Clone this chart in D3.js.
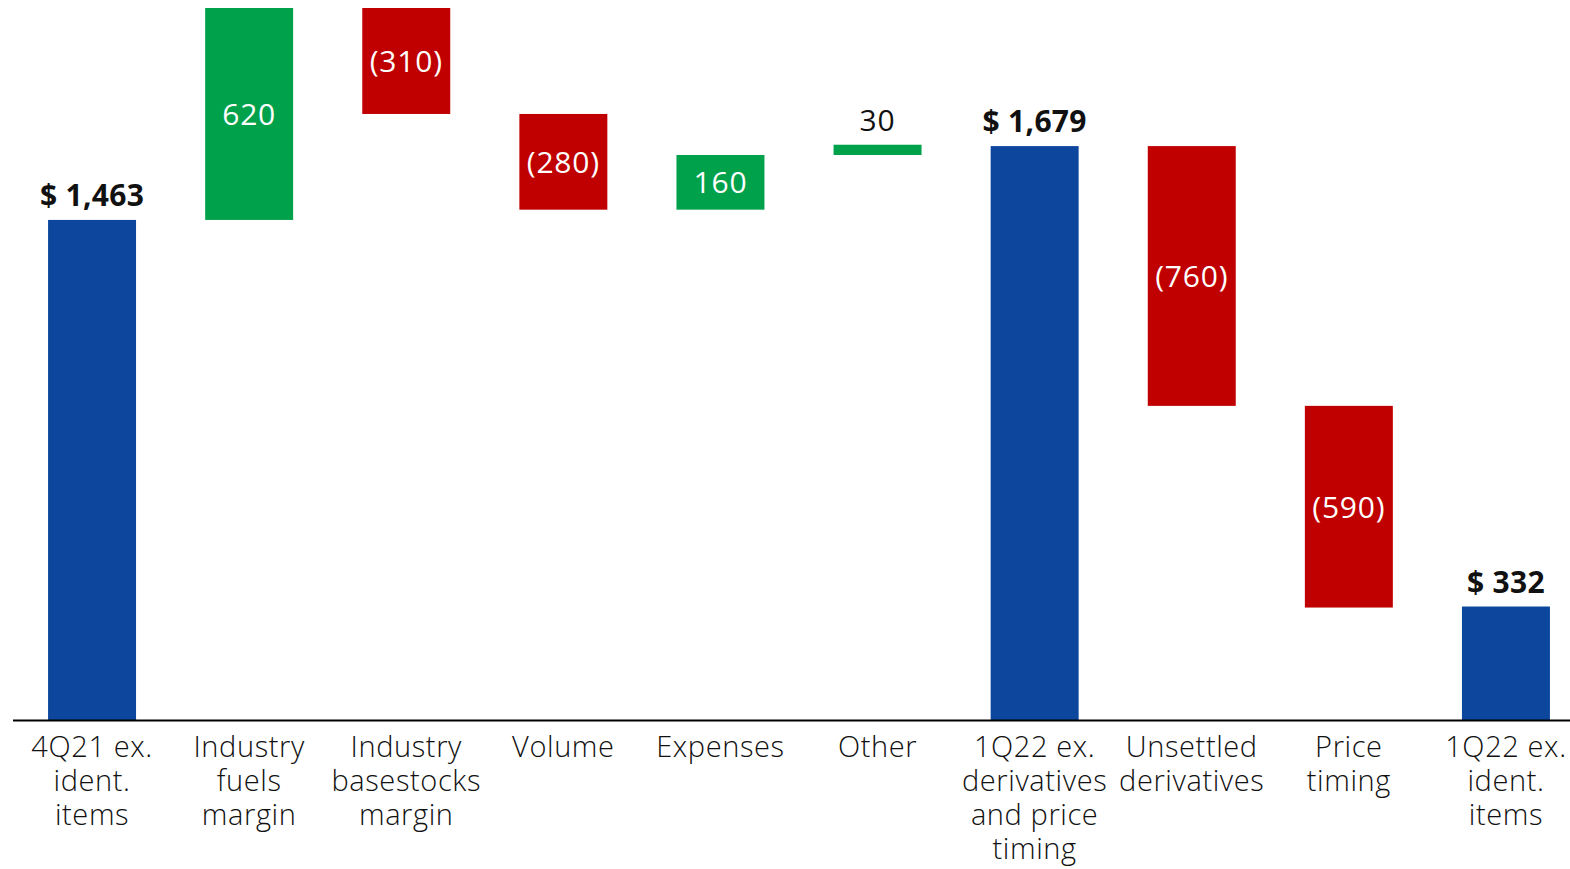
<!DOCTYPE html>
<html>
<head>
<meta charset="utf-8">
<script src="https://cdn.jsdelivr.net/npm/d3@7"></script>
<style>
  body { margin: 0; background: #fff; }
  svg { display: block; font-family: "Open Sans", sans-serif; }
</style>
</head>
<body>
<div id="chart"></div>
<script>
const categories = [
  ["4Q21 ex.", "ident.", "items"],
  ["Industry", "fuels", "margin"],
  ["Industry", "basestocks", "margin"],
  ["Volume"],
  ["Expenses"],
  ["Other"],
  ["1Q22 ex.", "derivatives", "and price", "timing"],
  ["Unsettled", "derivatives"],
  ["Price", "timing"],
  ["1Q22 ex.", "ident.", "items"]
];
const values = [1463, 620, -310, -280, 160, 30, 1679, -760, -590, 332];
const kinds = ["total", "delta", "delta", "delta", "delta", "delta", "total", "delta", "delta", "total"];

const W = 1570, H = 869;
const base = 720;

// waterfall steps
let running = 0;
const steps = values.map((v, i) => {
  let lo, hi;
  if (kinds[i] === "total") { lo = 0; hi = v; running = v; }
  else { const start = running; running += v; lo = Math.min(start, running); hi = Math.max(start, running); }
  return { i, v, kind: kinds[i], lo, hi };
});

const x = d3.scaleBand().domain(d3.range(categories.length))
  .range([13.5, 1584.5]).paddingInner(0.44).paddingOuter(0.22);
const y = d3.scaleLinear().domain([0, 2083]).range([base, 8]);

const color = d => d.kind === "total" ? "#0c479d" : (d.v >= 0 ? "#00a14b" : "#c00000");

const svg = d3.select("#chart").append("svg").attr("width", W).attr("height", H);

svg.selectAll(".bar").data(steps).enter().append("rect")
  .attr("x", d => x(d.i))
  .attr("y", d => y(d.hi))
  .attr("width", x.bandwidth())
  .attr("height", d => y(d.lo) - y(d.hi))
  .attr("fill", color);

svg.append("line")
  .attr("x1", 13).attr("x2", W).attr("y1", base + 0.5).attr("y2", base + 0.5)
  .attr("stroke", "#000").attr("stroke-width", 2);

const fmt = d3.format(",");
svg.selectAll(".val").data(steps).enter().append("text")
  .attr("x", d => x(d.i) + x.bandwidth() / 2)
  .attr("y", d => {
    const h = y(d.lo) - y(d.hi);
    if (d.kind === "total" || h < 40) return y(d.hi) - 14;
    return (y(d.lo) + y(d.hi)) / 2 + 11;
  })
  .attr("text-anchor", "middle")
  .style("font-size", "30px")
  .style("letter-spacing", d => d.kind === "total" ? "0.3px" : "0.8px")
  .style("font-weight", d => d.kind === "total" ? 700 : 400)
  .style("fill", d => {
    const h = y(d.lo) - y(d.hi);
    return (d.kind === "total" || h < 40) ? "#111" : "#fff";
  })
  .text(d => d.kind === "total" ? "$ " + fmt(d.v) : (d.v < 0 ? "(" + fmt(-d.v) + ")" : fmt(d.v)));

const cat = svg.selectAll(".cat").data(categories).enter().append("text")
  .attr("text-anchor", "middle")
  .style("font-size", "29px")
  .style("letter-spacing", "0.6px")
  .style("font-weight", 300)
  .style("fill", "#111");
cat.selectAll("tspan").data((d, i) => d.map(t => ({ t, i }))).enter().append("tspan")
  .attr("x", d => x(d.i) + x.bandwidth() / 2)
  .attr("y", (d, j) => 757 + j * 34)
  .text(d => d.t);
</script>
</body>
</html>
